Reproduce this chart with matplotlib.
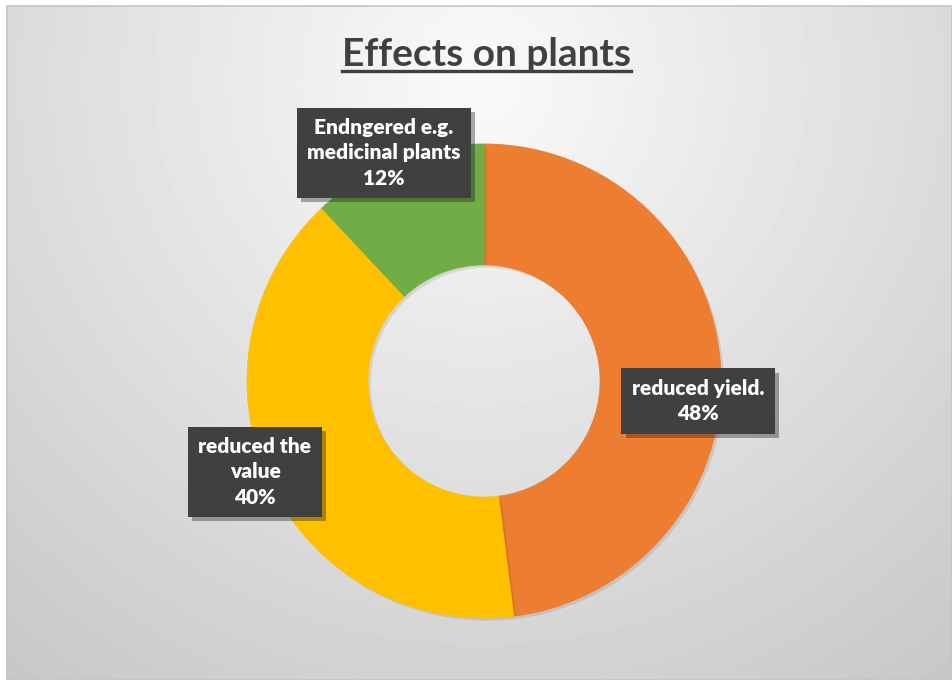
import matplotlib.pyplot as plt
import matplotlib.patheffects as pe
import numpy as np
from matplotlib.lines import Line2D
from matplotlib.patches import Rectangle

# data
categories = ["reduced yield.", "reduced the\nvalue", "Endngered e.g.\nmedicinal plants"]
shares = [48, 40, 12]
colors = ["#ED7D31", "#FFC000", "#70AD47"]

# label box centres in pixels (x from left, y from top)
label_pos = [(698, 401), (255, 472), (384, 153)]

W, H = 952, 680
plt.rcParams["font.family"] = ["Lato", "DejaVu Sans"]

fig = plt.figure(figsize=(W / 100, H / 100), dpi=100)
fig.patch.set_facecolor("white")

# chart area background: soft radial gradient, lightest under the title
ax_bg = fig.add_axes([0, 0, 1, 1])
ax_bg.set_xlim(0, W)
ax_bg.set_ylim(H, 0)
ax_bg.axis("off")
x0, y0 = 7, 6
yy, xx = np.mgrid[y0:H, x0:W]
dist = np.hypot(xx - 480, yy - 80)
shade = np.clip(250 - 0.067 * dist, 0, 255) / 255.0
ax_bg.imshow(shade, cmap="gray", vmin=0, vmax=1, extent=(x0, W, H, y0),
             interpolation="bilinear", aspect="auto")
ax_bg.add_patch(Rectangle((x0, y0), W - x0, H - y0, fill=False,
                          edgecolor="#c4c4c4", linewidth=1.2))

# donut
cx, cy, r = 484, 381, 237
ax = fig.add_axes([(cx - r) / W, 1 - (cy + r) / H, 2 * r / W, 2 * r / H])
wedges, _ = ax.pie(shares, colors=colors, startangle=90, counterclock=False,
                   radius=1.0, wedgeprops=dict(width=0.51, linewidth=0.6))
for w, c in zip(wedges, colors):
    w.set_edgecolor(c)
    w.set_path_effects([pe.SimplePatchShadow(offset=(2, -2), alpha=0.12),
                        pe.Normal()])
ax.set_xlim(-1, 1)
ax.set_ylim(-1, 1)
ax.axis("off")

# overlay for labels and title
ax_top = fig.add_axes([0, 0, 1, 1])
ax_top.set_xlim(0, W)
ax_top.set_ylim(H, 0)
ax_top.axis("off")

# data labels
for name, val, (px, py) in zip(categories, shares, label_pos):
    t = ax_top.text(px, py, f"{name}\n{val}%", ha="center", va="center",
                    color="white", fontsize=15, fontweight="heavy",
                    linespacing=1.4,
                    bbox=dict(boxstyle="square,pad=0.5", facecolor="#404040",
                              edgecolor="none"))
    t.get_bbox_patch().set_path_effects(
        [pe.SimplePatchShadow(offset=(3, -3), alpha=0.35), pe.Normal()])

# title with underline
title = ax_top.text(486, 54, "Effects on plants", ha="center", va="center",
                    color="#404040", fontsize=28, fontweight="bold")
fig.canvas.draw()
bb = title.get_window_extent()
uy = bb.y0 + 1
fig.add_artist(Line2D([bb.x0 / W, bb.x1 / W], [uy / H, uy / H],
                      color="#404040", linewidth=2.4))

fig.savefig("out.png", dpi=100)
